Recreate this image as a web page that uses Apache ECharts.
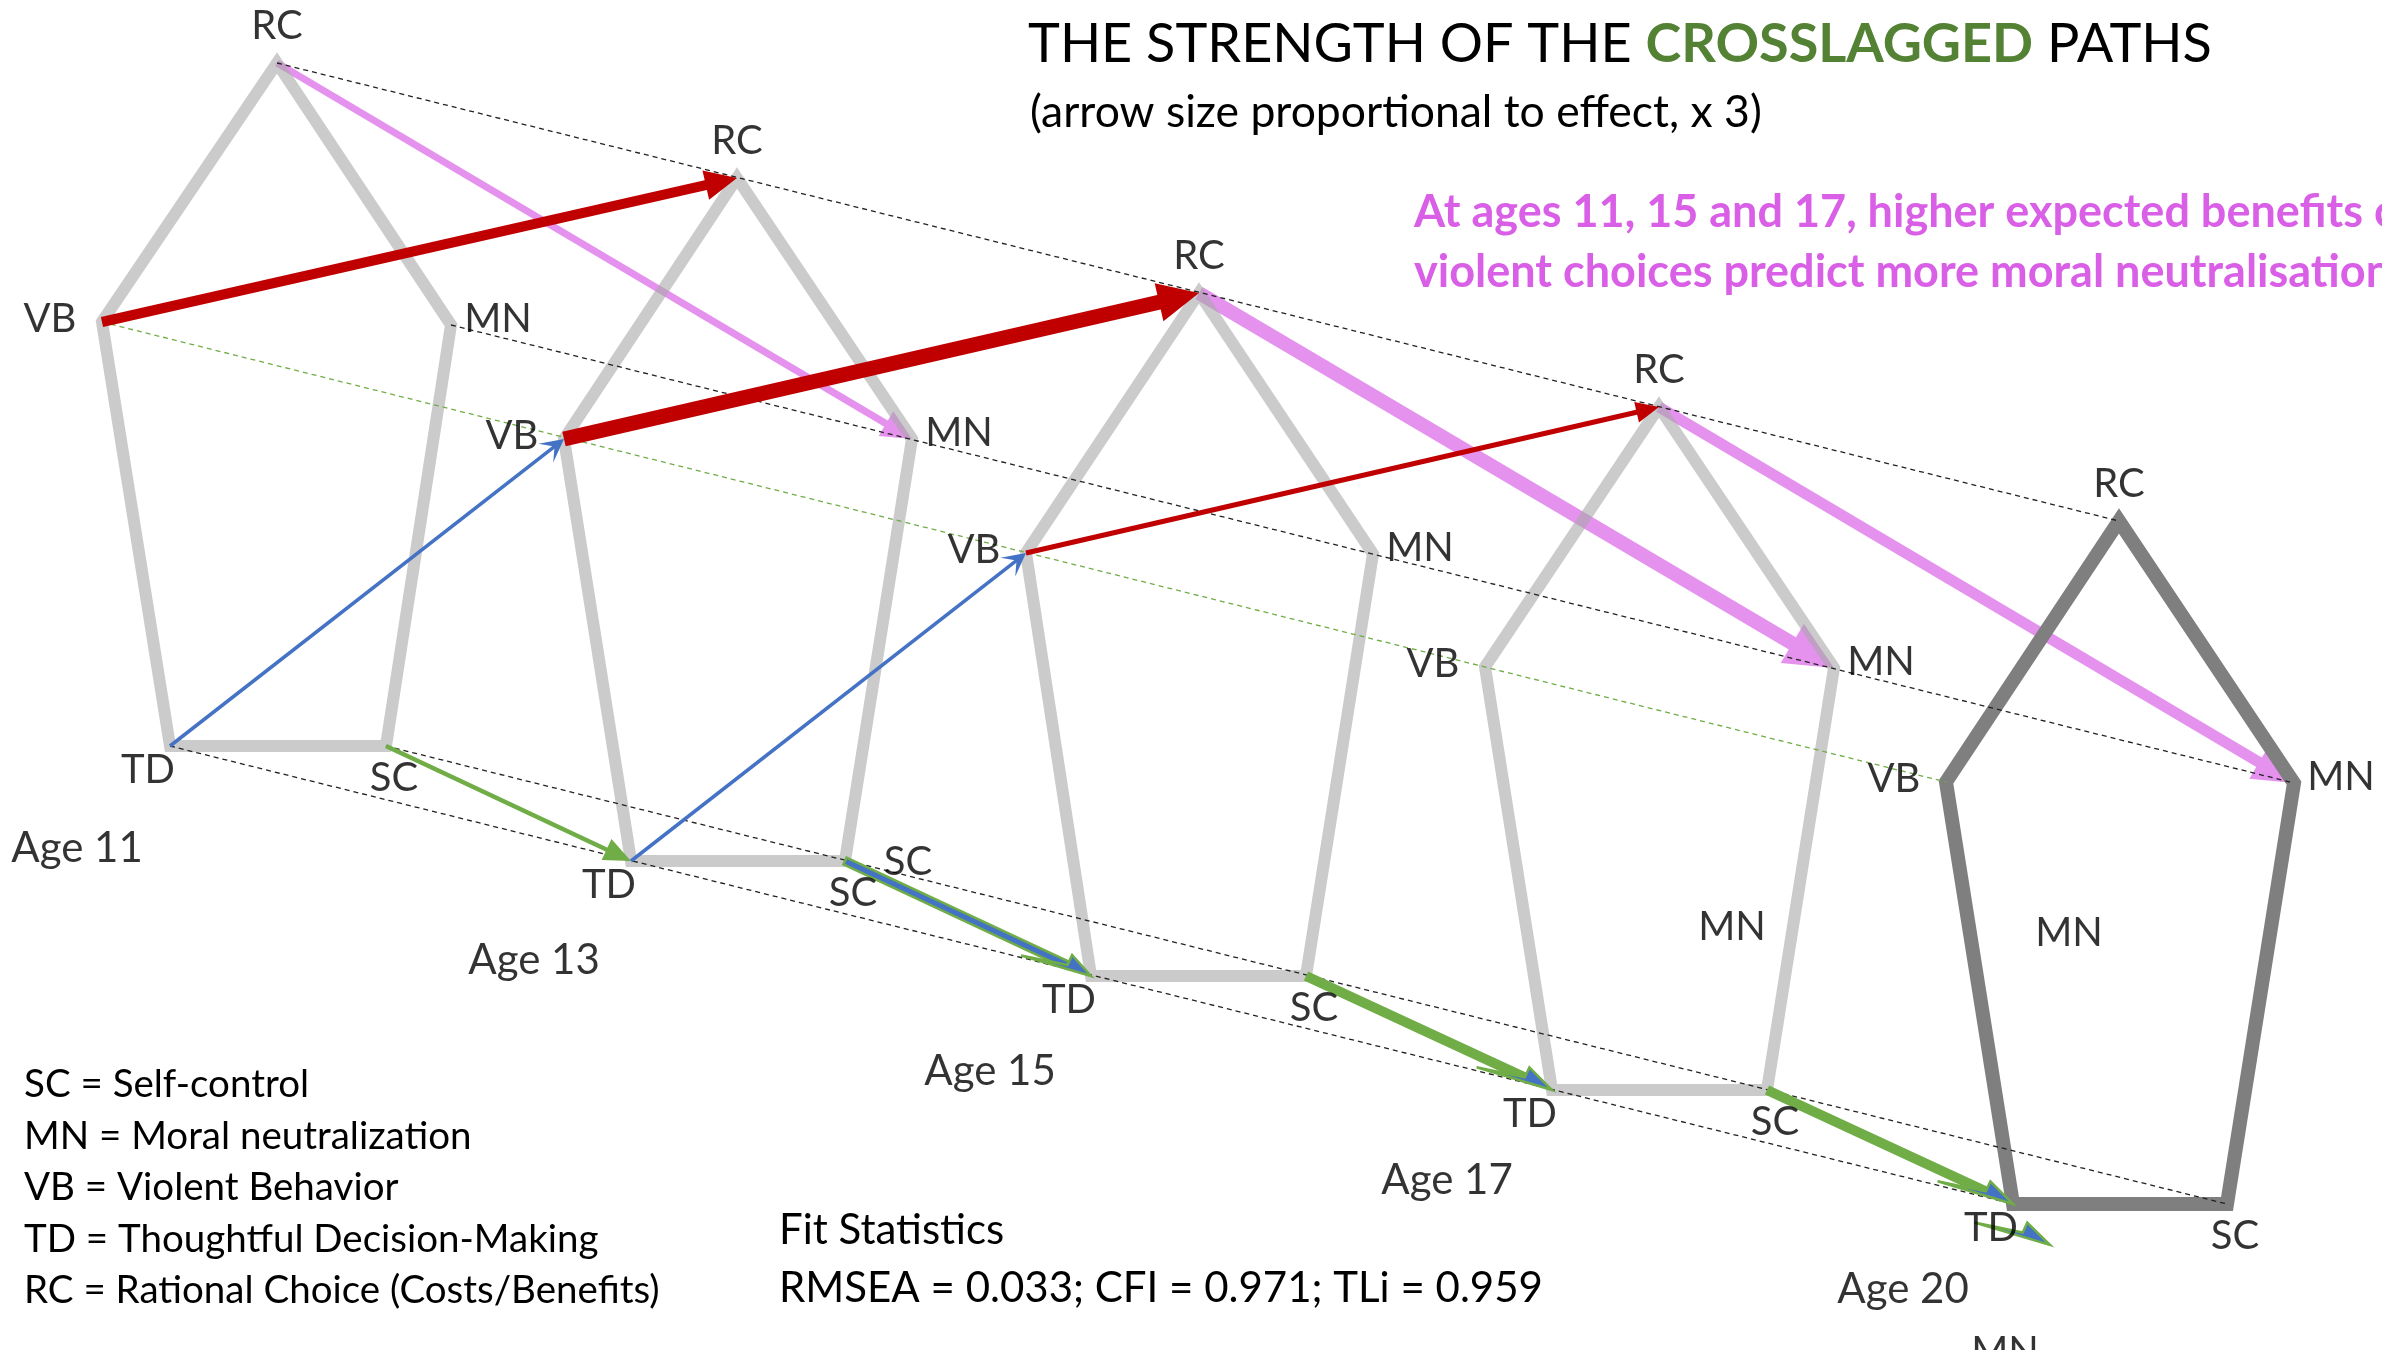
<!DOCTYPE html>
<html>
<head>
<meta charset="utf-8">
<title>Crosslagged paths</title>
<script src="https://cdn.jsdelivr.net/npm/echarts@6/dist/echarts.min.js"></script>
<style>
html, body { margin: 0; padding: 0; background: #fff; }
#chart { width: 2382px; height: 1350px; }
</style>
</head>
<body>
<div id="chart"></div>
<script>
// waves
const ageLabels = ['Age 11', 'Age 13', 'Age 15', 'Age 17', 'Age 20'];
const agePos = [[77, 848], [534, 960], [990, 1071], [1447, 1180], [1903, 1289]];

// node positions per wave, in picture pixels
const RC = [[277, 63], [737, 178], [1199, 293], [1659, 407], [2119, 521]];
const MN = [[451, 325], [912, 439], [1373, 554], [1834, 668], [2294, 783]];
const SC = [[386, 746], [845, 861], [1306, 976], [1767, 1090], [2227, 1204]];
const TD = [[170, 746], [631, 861], [1091, 976], [1552, 1090], [2013, 1204]];
const VB = [[102, 322], [564, 439], [1026, 553], [1485, 667], [1946, 782]];
const nodes = { RC, MN, SC, TD, VB };

// crosslagged paths: [from, wave, to, wave, arrow size]
const vbToRC = [['VB', 0, 'RC', 1, 10], ['VB', 1, 'RC', 2, 15], ['VB', 2, 'RC', 3, 5]];
const rcToMN = [['RC', 0, 'MN', 1, 7], ['RC', 2, 'MN', 3, 14], ['RC', 3, 'MN', 4, 11]];
const tdToVB = [['TD', 0, 'VB', 1, 3.5], ['TD', 1, 'VB', 2, 3.5]];
const scToTD = [['SC', 0, 'TD', 1, 4.5], ['SC', 1, 'TD', 2, 7.5], ['SC', 2, 'TD', 3, 10], ['SC', 3, 'TD', 4, 10]];
const scLooks = ['green', 'core', 'head', 'head'];
// leftover arrow head under TD at age 20
const strayHead = [[1980, 1213], [2050, 1245]];
// labels that sit off their node
const strayLabels = [['SC', 908, 862], ['MN', 1732, 927], ['MN', 2069, 933], ['MN', 2005, 1352]];

const legendLines = [
  'SC = Self-control',
  'MN = Moral neutralization',
  'VB = Violent Behavior',
  'TD = Thoughtful Decision-Making',
  'RC = Rational Choice (Costs/Benefits)'
];
const fitLines = ['Fit Statistics', 'RMSEA = 0.033; CFI = 0.971; TLi = 0.959'];
const noteLines = [
  'At ages 11, 15 and 17, higher expected benefits of',
  'violent choices predict more moral neutralisation'
];

const FONT = 'Lato, "Open Sans", sans-serif';

const chart = echarts.init(document.getElementById('chart'));

// arrow looks
const looks = {
  red: { fill: '#c00000', head: w => [14 + 1.8 * w, 14 + 1.8 * w, 6 + 0.9 * w] },
  pink: { fill: '#e592ee', head: w => [12 + 2.6 * w, 12 + 2.6 * w, 6 + 1.2 * w] },
  blue: { fill: '#4472c4', head: () => [23, 23, 12, 12] },
  green: { fill: '#70ad47', head: () => [27, 27, 11.5] },
  core: { fill: '#4472c4', stroke: '#70ad47', strokeW: 2.5, headFill: '#4472c4', head: () => [72, 26, 11] },
  head: { fill: '#70ad47', headFill: '#4472c4', headStroke: '#70ad47', head: () => [78, 30, 11] }
};

function arrowGroup(p1, p2, w, look) {
  const dx = p2[0] - p1[0], dy = p2[1] - p1[1];
  const len = Math.hypot(dx, dy);
  const ux = dx / len, uy = dy / len, nx = -uy, ny = ux;
  const h = look.head(w);
  const back1 = h[0], back2 = h[1], half = h[2];
  const notch = h[3] != null ? h[3] : Math.min(back1, back2);
  const at = (along, side) => [p2[0] + ux * along + nx * side, p2[1] + uy * along + ny * side];
  const children = [];
  if (w > 0) {
    children.push({
      type: 'polygon',
      shape: { points: [
        [p1[0] + nx * w / 2, p1[1] + ny * w / 2], at(-notch + 1, w / 2),
        at(-notch + 1, -w / 2), [p1[0] - nx * w / 2, p1[1] - ny * w / 2]
      ] },
      style: { fill: look.fill, stroke: look.stroke || null, lineWidth: look.strokeW || 0 }
    });
  }
  const hs = look.headStroke || look.stroke;
  children.push({
    type: 'polygon',
    shape: { points: [at(-back1, half), p2, at(-back2, -half), at(-notch, 0)] },
    style: { fill: look.headFill || look.fill, stroke: hs || null, lineWidth: hs ? 2.5 : 0, lineJoin: 'miter' }
  });
  return { type: 'group', children };
}

function pathData(paths) {
  return paths.map(p => {
    const a = nodes[p[0]][p[1]], b = nodes[p[2]][p[3]];
    return [a[0], a[1], b[0], b[1], p[4]];
  });
}

function arrowSeries(data, lookOf, z) {
  return {
    type: 'custom',
    coordinateSystem: 'cartesian2d',
    silent: true,
    clip: false,
    z: z,
    encode: { x: [0, 2], y: [1, 3] },
    data: data,
    renderItem: (params, api) => {
      const p1 = api.coord([api.value(0), api.value(1)]);
      const p2 = api.coord([api.value(2), api.value(3)]);
      return arrowGroup(p1, p2, api.value(4), looks[lookOf(params.dataIndex)]);
    }
  };
}

// pentagons, one per wave
const pentagonSeries = {
  type: 'custom',
  coordinateSystem: 'cartesian2d',
  silent: true,
  clip: false,
  z: 3,
  data: ageLabels.map((a, i) => [RC[i], MN[i], SC[i], TD[i], VB[i]].flat()),
  renderItem: (params, api) => {
    const pts = [];
    for (let k = 0; k < 5; k++) pts.push(api.coord([api.value(2 * k), api.value(2 * k + 1)]));
    const last = params.dataIndex === ageLabels.length - 1;
    return {
      type: 'polygon',
      shape: { points: pts },
      style: {
        fill: null,
        stroke: last ? '#7f7f7f' : 'rgba(168,168,168,0.6)',
        lineWidth: last ? 14 : 12,
        lineJoin: 'miter',
        miterLimit: 10
      }
    };
  }
};

// dashed links joining the same construct across waves
const linkSeries = ['RC', 'MN', 'VB', 'TD', 'SC'].map(v => ({
  type: 'line',
  silent: true,
  z: 4,
  symbol: 'none',
  data: [nodes[v][0], nodes[v][nodes[v].length - 1]],
  lineStyle: { color: v === 'VB' ? '#70ad47' : '#222', width: 1.3, type: [5, 4] }
}));

// node labels
const labelOffsets = { RC: [0, -37], VB: [-52, -3], MN: [47, -6], TD: [-22, 24], SC: [8, 32] };
const labelSeries = Object.keys(labelOffsets).map(v => ({
  type: 'scatter',
  silent: true,
  z: 6,
  symbolSize: 0,
  itemStyle: { color: 'rgba(0,0,0,0)' },
  data: nodes[v],
  label: {
    show: true, position: 'inside', offset: labelOffsets[v], formatter: v,
    color: '#000', fontSize: 40, fontFamily: FONT
  }
}));

const strayLabelSeries = {
  type: 'scatter',
  silent: true,
  clip: false,
  z: 6,
  symbolSize: 0,
  itemStyle: { color: 'rgba(0,0,0,0)' },
  data: strayLabels.map(s => ({ value: [s[1], s[2]], name: s[0] })),
  label: { show: true, position: 'inside', formatter: '{b}', color: '#000', fontSize: 40, fontFamily: FONT }
};

const ageSeries = {
  type: 'scatter',
  silent: true,
  z: 6,
  symbolSize: 0,
  itemStyle: { color: 'rgba(0,0,0,0)' },
  data: agePos.map((p, i) => ({ value: p, name: ageLabels[i] })),
  label: { show: true, position: 'inside', formatter: '{b}', color: '#000', fontSize: 42, fontFamily: FONT }
};

const texts = [];
texts.push({
  type: 'text', x: 1028, y: 45,
  style: {
    text: '{a|THE STRENGTH OF THE }{b|CROSSLAGGED}{a| PATHS}',
    verticalAlign: 'middle',
    rich: {
      a: { fontSize: 54, fontFamily: FONT, fill: '#000' },
      b: { fontSize: 54, fontFamily: FONT, fill: '#548235', fontWeight: 'bold' }
    }
  }
});
texts.push({
  type: 'text', x: 1030, y: 113,
  style: { text: '(arrow size proportional to effect, x 3)', fontSize: 44.5, fontFamily: FONT, fill: '#000', verticalAlign: 'middle' }
});
noteLines.forEach((t, i) => texts.push({
  type: 'text', x: 1414, y: 212 + i * 60,
  style: { text: t, fontSize: 45, fontWeight: 'bold', fontFamily: FONT, fill: '#d95fe6', verticalAlign: 'middle' }
}));
legendLines.forEach((t, i) => texts.push({
  type: 'text', x: 24, y: 1085 + i * 51.5,
  style: { text: t, fontSize: 38.5, fontFamily: FONT, fill: '#000', verticalAlign: 'middle' }
}));
fitLines.forEach((t, i) => texts.push({
  type: 'text', x: 779, y: 1230 + i * 58,
  style: { text: t, fontSize: 42, fontFamily: FONT, fill: '#000', verticalAlign: 'middle' }
}));

chart.setOption({
  animation: false,
  backgroundColor: '#fff',
  grid: { left: 0, right: 0, top: 0, bottom: 0 },
  xAxis: { type: 'value', min: 0, max: 2382, show: false },
  yAxis: { type: 'value', min: 0, max: 1350, inverse: true, show: false },
  graphic: texts.map(t => Object.assign({ silent: true, z: 10 }, t)),
  series: [
    arrowSeries(pathData(rcToMN), () => 'pink', 2),
    pentagonSeries,
    ...linkSeries,
    arrowSeries(pathData(vbToRC), () => 'red', 5),
    arrowSeries(pathData(tdToVB), () => 'blue', 5),
    arrowSeries(pathData(scToTD), i => scLooks[i], 5),
    arrowSeries([[strayHead[0][0], strayHead[0][1], strayHead[1][0], strayHead[1][1], 0]], () => 'head', 5),
    ...labelSeries,
    strayLabelSeries,
    ageSeries
  ]
});
</script>
</body>
</html>
